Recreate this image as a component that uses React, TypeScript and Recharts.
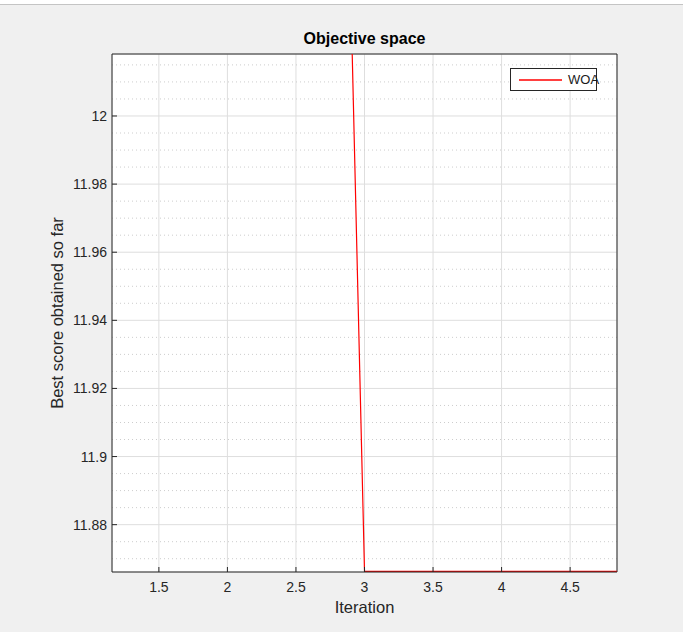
import {
  CartesianGrid,
  Legend,
  Line,
  LineChart,
  ReferenceLine,
  XAxis,
  YAxis,
} from "recharts";

const iterations = [1, 2, 3, 4, 5];
const bestScores = [14.82, 13.56, 11.8663, 11.8663, 11.8663];

const xTicks = [1.5, 2, 2.5, 3, 3.5, 4, 4.5];
const yTicks = [11.88, 11.9, 11.92, 11.94, 11.96, 11.98, 12];
const yMinorTicks = [
  11.87, 11.875, 11.885, 11.89, 11.895, 11.905, 11.91, 11.915, 11.925, 11.93,
  11.935, 11.945, 11.95, 11.955, 11.965, 11.97, 11.975, 11.985, 11.99, 11.995,
  12.005, 12.01, 12.015,
];
const xDomain = [1.158, 4.842];
const yDomain = [11.8661, 12.0182];

const data = iterations.map((it, i) => ({ it, score: bestScores[i] }));

const FONT = '"Liberation Sans", Arial, Helvetica, sans-serif';
const AXIS = "#262626";

function WoaLegend() {
  return (
    <div
      style={{
        width: 85,
        height: 21,
        border: `1px solid ${AXIS}`,
        background: "#fff",
        display: "flex",
        alignItems: "center",
        fontFamily: FONT,
        fontSize: 13,
        color: "#1a1a1a",
      }}
    >
      <svg width={57} height={21} style={{ display: "block", flex: "none" }}>
        <line x1={8} x2={51} y1={11} y2={11} stroke="#ff0000" strokeWidth={1.3} />
      </svg>
      WOA
    </div>
  );
}

export default function App() {
  return (
    <div
      style={{
        position: "absolute",
        left: 0,
        top: 0,
        width: 683,
        height: 632,
        background: "#f0f0f0",
        fontFamily: FONT,
      }}
    >
      <div style={{ position: "absolute", left: 0, top: 0, width: 683, height: 4, background: "#fff", borderBottom: "1px solid #c4c4c4" }} />
      <div style={{ position: "absolute", left: 0, top: 0 }}>
        <LineChart width={683} height={632} data={data} margin={{ top: 54, right: 66, bottom: 0, left: 0 }}>
          <CartesianGrid fill="#fff" stroke="#dedede" strokeWidth={1} />
          {yMinorTicks.map((v) => (
            <ReferenceLine key={v} y={v} stroke="#cdcdcd" strokeDasharray="1 3" strokeWidth={1} />
          ))}
          <XAxis
            dataKey="it"
            type="number"
            domain={xDomain}
            allowDataOverflow
            ticks={xTicks}
            interval={0}
            height={60}
            stroke={AXIS}
            tickSize={-5}
            tickMargin={15}
            tick={{ fill: "#262626", fontSize: 14, fontFamily: FONT }}
            label={{ value: "Iteration", position: "insideBottom", offset: 19, fill: "#262626", fontSize: 16.5, fontFamily: FONT }}
          />
          <YAxis
            type="number"
            domain={yDomain}
            allowDataOverflow
            ticks={yTicks}
            interval={0}
            width={112}
            stroke={AXIS}
            tickSize={-5}
            tickMargin={10}
            tick={{ fill: "#262626", fontSize: 14, fontFamily: FONT }}
            label={{ value: "Best score obtained so far", angle: -90, position: "center", dx: 1, fill: "#262626", fontSize: 16.5, fontFamily: FONT }}
          />
          <ReferenceLine
            y={yDomain[1]}
            stroke={AXIS}
            strokeWidth={1}
            label={{ value: "Objective space", position: "top", offset: 10, fill: "#000", fontSize: 16, fontWeight: "bold", fontFamily: FONT }}
          />
          <ReferenceLine x={xDomain[1]} stroke={AXIS} strokeWidth={1} />
          <Legend
            layout="vertical"
            align="center"
            verticalAlign="middle"
            content={<WoaLegend />}
            wrapperStyle={{ left: 510, top: 68, width: 87, height: 23 }}
          />
          <Line
            dataKey="score"
            name="WOA"
            type="linear"
            stroke="#ff0000"
            strokeWidth={1.2}
            dot={false}
            activeDot={false}
            isAnimationActive={false}
          />
        </LineChart>
      </div>
    </div>
  );
}
